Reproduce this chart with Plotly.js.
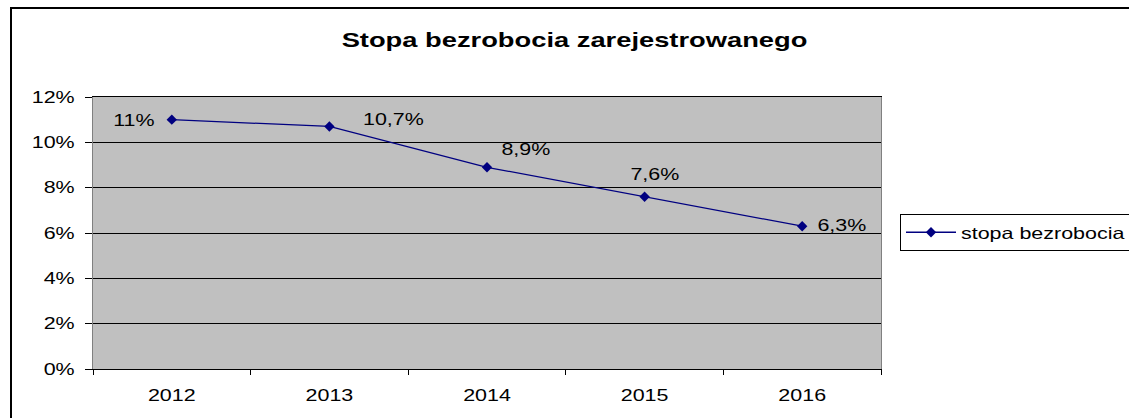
<!DOCTYPE html>
<html>
<head>
<meta charset="utf-8">
<script src="https://cdn.plot.ly/plotly-3.0.1.min.js"></script>
<style>
  html, body { margin: 0; padding: 0; background: #ffffff; }
  #chart { width: 1129px; height: 418px; }
</style>
</head>
<body>
<div id="chart"></div>
<script>
// ---- data ----
const years = ['2012', '2013', '2014', '2015', '2016'];
const unemploymentPct = [11, 10.7, 8.9, 7.6, 6.3];
const seriesName = 'stopa bezrobocia';
const chartTitle = 'Stopa bezrobocia zarejestrowanego';
const yTickVals = [0, 0.02, 0.04, 0.06, 0.08, 0.10, 0.12];

// ---- styling / label placement (pixels) ----
const labelOffsets = [[-38, 0], [64, 7.5], [39, 18], [10.5, 22.7], [40, 1.6]];
const FONT = '"Liberation Sans", Arial, sans-serif';
const TEXT_STRETCH = 1.3;

const yVals = unemploymentPct.map(v => v / 100);
const fmt = v => String(v).replace('.', ',') + '%';

const trace = {
  type: 'scatter',
  mode: 'lines+markers',
  x: years,
  y: yVals,
  name: seriesName,
  line: { color: '#000080', width: 1.3 },
  marker: { symbol: 'diamond', size: 8, color: '#000080' },
  showlegend: true,
  hoverinfo: 'skip'
};

const annotations = years.map((yr, i) => ({
  x: i, y: yVals[i], xref: 'x', yref: 'y',
  text: fmt(unemploymentPct[i]),
  showarrow: false,
  xanchor: 'center', yanchor: 'middle',
  xshift: labelOffsets[i][0], yshift: labelOffsets[i][1],
  font: { family: FONT, size: 16.5, color: '#000000' }
}));

const layout = {
  width: 1129, height: 418,
  paper_bgcolor: '#ffffff',
  plot_bgcolor: '#c0c0c0',
  margin: { l: 93, r: 248, t: 97, b: 49, autoexpand: false },
  font: { family: FONT, size: 16.5, color: '#000000' },
  title: {
    text: '<b>' + chartTitle + '</b>',
    font: { family: FONT, size: 21, color: '#000000' },
    x: 574.5 / 1129, xref: 'container', xanchor: 'center',
    y: 1 - 40 / 418, yref: 'container', yanchor: 'middle'
  },
  xaxis: {
    type: 'category',
    tickson: 'boundaries',
    ticks: 'outside', ticklen: 5, tickcolor: '#000000', tickwidth: 1,
    ticklabelstandoff: 11,
    showline: true, linecolor: '#000000', linewidth: 1, mirror: true,
    showgrid: false, zeroline: false,
    tickfont: { family: FONT, size: 16.5, color: '#000000' },
    range: [-0.5, 4.5],
    fixedrange: true
  },
  yaxis: {
    range: [0, 0.12],
    tickvals: yTickVals,
    tickformat: '.0%',
    ticks: 'outside', ticklen: 7, tickcolor: '#000000', tickwidth: 1,
    ticklabelstandoff: 7,
    showline: true, linecolor: '#808080', linewidth: 1, mirror: true,
    showgrid: true, gridcolor: '#000000', gridwidth: 1,
    zeroline: false,
    tickfont: { family: FONT, size: 16.5, color: '#000000' },
    fixedrange: true
  },
  showlegend: true,
  legend: {
    x: (900 - 93) / 788, xanchor: 'left',
    y: (369 - 214) / 272, yanchor: 'top',
    bgcolor: '#ffffff',
    bordercolor: '#000000', borderwidth: 1,
    font: { family: FONT, size: 16.5, color: '#000000' },
    itemwidth: 50
  },
  annotations: annotations,
  shapes: [{
    type: 'rect', xref: 'paper', yref: 'paper',
    x0: (11 - 93) / 788, x1: (1145 - 93) / 788,
    y0: (369 - 430) / 272, y1: (369 - 8) / 272,
    line: { color: '#000000', width: 2 },
    fillcolor: 'rgba(0,0,0,0)',
    layer: 'above'
  }]
};

function stretchText(gd, s) {
  gd.querySelectorAll('svg text').forEach(t => {
    if (!t.textContent) return;
    const len = t.getComputedTextLength();
    if (!len) return;
    t.setAttribute('textLength', (len * s).toFixed(2));
    t.setAttribute('lengthAdjust', 'spacingAndGlyphs');
  });
  // let the widened legend text show and widen its frame
  const leg = gd.querySelector('g.legend');
  if (leg) {
    leg.querySelectorAll('[clip-path]').forEach(el => el.removeAttribute('clip-path'));
    const bg = leg.querySelector('rect.bg');
    if (bg) bg.setAttribute('width', 260);
  }
}

Plotly.newPlot('chart', [trace], layout, { displayModeBar: false, staticPlot: true })
  .then(gd => stretchText(gd, TEXT_STRETCH));
</script>
</body>
</html>
